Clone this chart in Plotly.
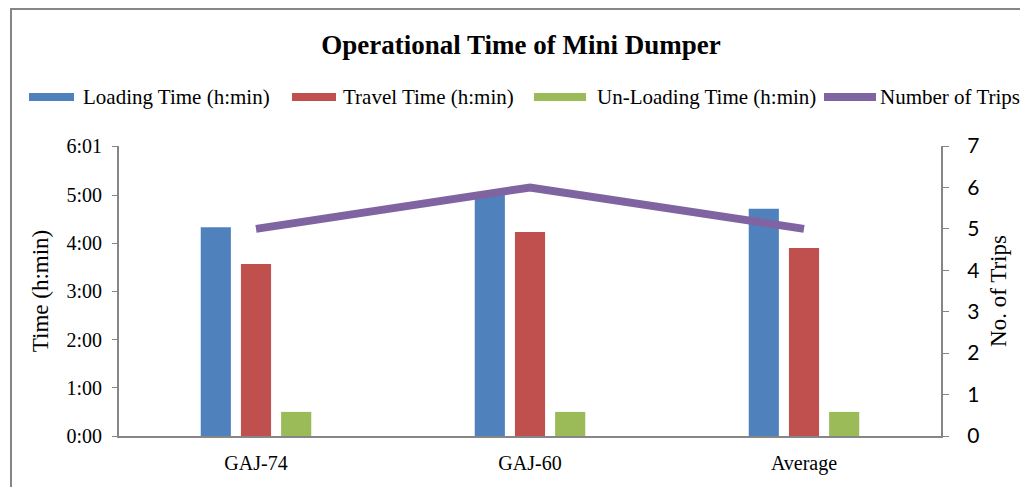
import plotly.graph_objects as go

# data (times in minutes)
categories = ['GAJ-74', 'GAJ-60', 'Average']
loading_min = [260, 303, 283]
travel_min = [214, 254, 234]
unloading_min = [30, 30, 30]
trips = [5, 6, 5]

time_tickvals = [0, 60, 120, 180, 240, 300, 361]
time_ticktext = ['0:00', '1:00', '2:00', '3:00', '4:00', '5:00', '6:01']

series_names = ['Loading Time (h:min)', 'Travel Time (h:min)',
                'Un-Loading Time (h:min)', 'Number of Trips']

blue = '#4F81BD'
red = '#C0504D'
green = '#9BBB59'
purple = '#8064A2'
axis_gray = '#868686'
serif = 'Liberation Serif, Times New Roman, serif'


def px_x(s):
    # screen pixel -> paper x (plot area spans 119..941)
    return (s - 119) / 822


def px_y(s):
    # screen pixel -> paper y (plot area spans 146..436)
    return (436 - s) / 290


fig = go.Figure()

bar_vals = [loading_min, travel_min, unloading_min]
bar_cols = [blue, red, green]
for name, vals, col in zip(series_names[:3], bar_vals, bar_cols):
    fig.add_trace(go.Bar(x=categories, y=vals, name=name, marker_color=col,
                         marker_line_width=0))

fig.add_trace(go.Scatter(x=categories, y=trips, mode='lines', name=series_names[3],
                         line=dict(color=purple, width=8), yaxis='y2'))

fig.update_layout(
    width=1020, height=479,
    paper_bgcolor='white', plot_bgcolor='white',
    margin=dict(l=111, r=87, t=138, b=51),
    barmode='group', bargap=0.56, bargroupgap=0.25,
    showlegend=False,
    font=dict(family=serif, size=20, color='black'),
    title=dict(text='<b>Operational Time of Mini Dumper</b>', x=0.503, xanchor='center',
               y=0.923, yanchor='middle', font=dict(family=serif, size=27, color='black')),
    xaxis=dict(showline=True, linecolor=axis_gray, linewidth=2, ticks='',
               ticklabelstandoff=8, tickfont=dict(family=serif, size=20)),
    yaxis=dict(range=[0, 361], tickvals=time_tickvals, ticktext=time_ticktext,
               showline=True, linecolor=axis_gray, linewidth=2, ticks='outside',
               ticklen=5, tickcolor=axis_gray, showgrid=False, zeroline=False,
               ticklabelstandoff=6,
               title=dict(text='Time (h:min)', font=dict(family=serif, size=23), standoff=11),
               tickfont=dict(family=serif, size=20)),
    yaxis2=dict(range=[0, 7], dtick=1, overlaying='y', side='right',
                showline=True, linecolor=axis_gray, linewidth=2, ticks='outside',
                ticklen=6, tickcolor=axis_gray, showgrid=False, zeroline=False,
                ticklabelstandoff=14,
                title=dict(text='No. of Trips', font=dict(family=serif, size=23), standoff=12),
                tickfont=dict(family='Lato, Carlito, sans-serif', size=21)),
)

# legend drawn like the original: long thick line keys
legend_keys = [(25, 78, 81), (288, 340, 341), (530, 590, 595), (820, 880, 878)]
legend_cols = [blue, red, green, purple]
for (k0, k1, tx), col, name in zip(legend_keys, legend_cols, series_names):
    fig.add_shape(type='line', xref='paper', yref='paper',
                  x0=px_x(k0 + 4), x1=px_x(k1 - 4), y0=px_y(97), y1=px_y(97),
                  line=dict(color=col, width=8))
    fig.add_annotation(text=name, xref='paper', yref='paper', x=px_x(tx), y=px_y(97),
                       xanchor='left', yanchor='middle', showarrow=False,
                       font=dict(family=serif, size=21, color='black'))

# outer chart frame
fig.add_shape(type='rect', xref='paper', yref='paper',
              x0=-0.1314, x1=1.1022, y0=-0.25, y1=1.4724,
              line=dict(color=axis_gray, width=2), layer='below')

fig.write_html('out.html')
